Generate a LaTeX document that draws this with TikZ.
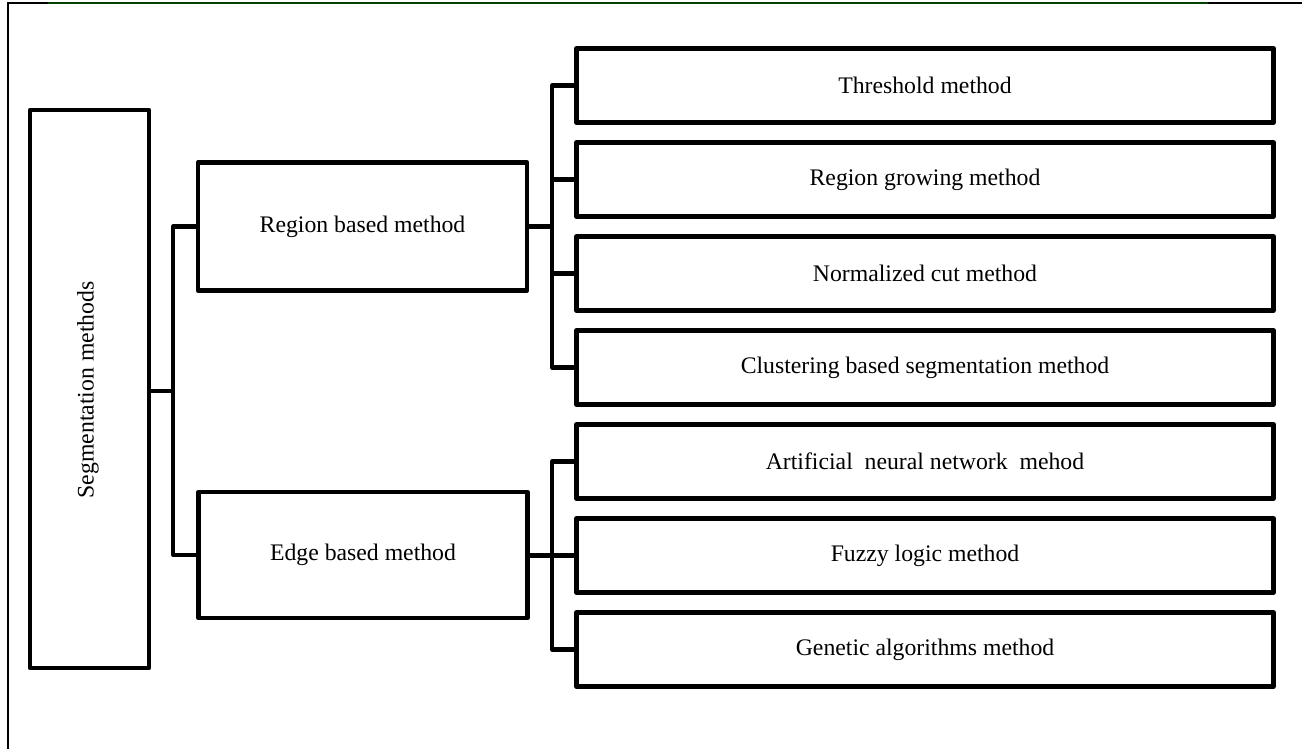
\documentclass[tikz,border=0pt]{standalone}
\usepackage{fontspec}
\setmainfont{Liberation Serif}
\definecolor{framegreen}{RGB}{0,64,0}
\begin{document}
\begin{tikzpicture}[x=0.75pt,y=-0.75pt,
  box/.style={draw=black,line width=3.6pt,rectangle,inner sep=0pt,align=center,
    font=\fontsize{17.8}{21}\selectfont,line join=round},
  leaf/.style={box,minimum width=696.5*0.75pt,minimum height=74*0.75pt},
  mid/.style={box,minimum width=329*0.75pt,minimum height=128*0.75pt},
  conn/.style={line width=3.1pt,line join=round}]
\useasboundingbox (0,0) rectangle (1302,749);
% outer frame
\draw[line width=1.6pt] (8,749) -- (8,3) -- (48,3);
\draw[line width=1.6pt,framegreen] (48,3) -- (1208,3);
\draw[line width=1.6pt] (1208,3) -- (1302,3);
% nodes
\node[box,minimum width=119*0.75pt,minimum height=558*0.75pt] (main) at (89.5,389) {};
\node[rotate=90,font=\fontsize{17.8}{21}\selectfont] (maintext) at (88,390) {Segmentation methods};
\node[mid] (region) at (362.5,226.5) {Region based method};
\node[mid,minimum height=126*0.75pt] (edge) at (363,555) {Edge based method};
\node[leaf] (b1) at (925,85.5) {Threshold method};
\node[leaf] (b2) at (925,179.5) {Region growing method};
\node[leaf] (b3) at (925,273.5) {Normalized cut method};
\node[leaf] (b4) at (925,367.5) {Clustering based segmentation method};
\node[leaf] (b5) at (925,461.5) {Artificial\ \ neural network\ \ mehod};
\node[leaf] (b6) at (925,555.5) {Fuzzy logic method};
\node[leaf] (b7) at (925,649.5) {Genetic algorithms method};
% junctions
\coordinate (j1) at (173,391);
\coordinate (j2) at (552,226.5);
\coordinate (j3) at (552,555.5);
% connectors
\draw[conn] (main.east |- j1) -- (j1);
\draw[conn] (j1) |- (region.west);
\draw[conn] (j1) |- (edge.west);
\draw[conn] (region.east) -- (j2);
\draw[conn] (j2) |- (b1.west);
\draw[conn] (j2) |- (b2.west);
\draw[conn] (j2) |- (b3.west);
\draw[conn] (j2) |- (b4.west);
\draw[conn] (edge.east |- j3) -- (b6.west);
\draw[conn] (j3) |- (b5.west);
\draw[conn] (j3) |- (b7.west);
\end{tikzpicture}
\end{document}
